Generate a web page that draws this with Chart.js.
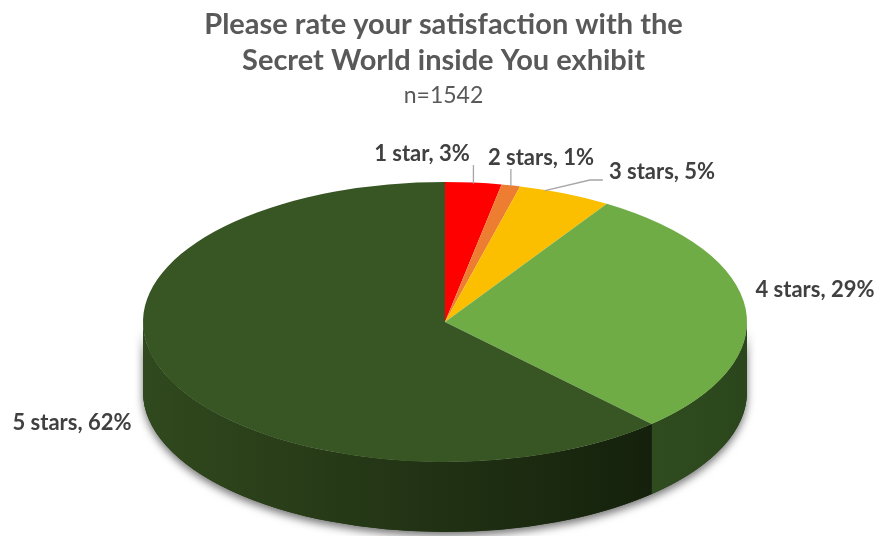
<!DOCTYPE html>
<html>
<head>
<meta charset="utf-8">
<title>Exhibit satisfaction</title>
<script src="https://cdn.jsdelivr.net/npm/chart.js@4.4.1/dist/chart.umd.min.js"></script>
<style>
  html, body { margin: 0; padding: 0; background: #ffffff; }
  #wrap { width: 880px; height: 536px; }
</style>
</head>
<body>
<div id="wrap"><canvas id="ratingChart" width="880" height="536"></canvas></div>
<script>
const ratingLabels = ["1 star", "2 stars", "3 stars", "4 stars", "5 stars"];
const ratingShares = [3, 1, 5, 29, 62];
const respondents = 1542;

const topColors = ["#ff0000", "#ed7d31", "#fbbf00", "#6fac46", "#375623"];
// side wall shading, left -> right
const sideColors = [
    ["#990000", "#660000"],
    ["#8e4b1d", "#5f3213"],
    ["#977300", "#654d00"],
    ["#2f4c1f", "#2b461c"],
    ["#31491e", "#15210c"]
];

// tilted pie: top ellipse and extrusion depth
const tilt = { cx: 445, cy: 322, rx: 302, ry: 140, depth: 70 };

// where each label text sits (centre), and how its leader line runs
const labelSpots = [
    { x: 422, y: 154, leader: "up" },
    { x: 541, y: 158, leader: "up" },
    { x: 662, y: 172, leader: "left" },
    { x: 815, y: 290, leader: null },
    { x: 72, y: 423, leader: null }
];

function frontRange(a0, a1) {
    // part of [a0, a1] that faces the viewer (canvas angle 0..PI)
    const s = Math.max(a0, 0);
    const e = Math.min(a1, Math.PI);
    return e > s ? [s, e] : null;
}

const tiltedPie = {
    id: "tiltedPie",
    beforeDatasetsDraw(chart) {
        const ctx = chart.ctx;
        const meta = chart.getDatasetMeta(0);
        const { cx, cy, rx, ry, depth } = tilt;

        // soft shadow under the whole wall
        ctx.save();
        ctx.shadowColor = "rgba(0,0,0,0.55)";
        ctx.shadowBlur = 9;
        ctx.shadowOffsetY = 4;
        ctx.fillStyle = "#1f3015";
        ctx.beginPath();
        ctx.ellipse(cx, cy, rx, ry, 0, 0, Math.PI);
        ctx.ellipse(cx, cy + depth, rx, ry, 0, Math.PI, 0, true);
        ctx.closePath();
        ctx.fill();
        ctx.restore();

        meta.data.forEach((arc, i) => {
            const { startAngle, endAngle } = arc.getProps(["startAngle", "endAngle"], true);
            const range = frontRange(startAngle, endAngle);
            if (!range) return;
            const [s, e] = range;
            const xa = cx + rx * Math.cos(e);
            const xb = cx + rx * Math.cos(s);
            const g = ctx.createLinearGradient(Math.min(xa, xb), 0, Math.max(xa, xb), 0);
            g.addColorStop(0, sideColors[i][0]);
            g.addColorStop(1, sideColors[i][1]);
            ctx.save();
            ctx.fillStyle = g;
            ctx.beginPath();
            ctx.ellipse(cx, cy, rx, ry, 0, s, e);
            ctx.ellipse(cx, cy + depth, rx, ry, 0, e, s, true);
            ctx.closePath();
            ctx.fill();
            ctx.restore();
        });

        // squash the round pie onto the top ellipse
        const first = meta.data[0].getProps(["x", "y", "outerRadius"], true);
        ctx.save();
        ctx.translate(cx, cy);
        ctx.scale(rx / first.outerRadius, ry / first.outerRadius);
        ctx.translate(-first.x, -first.y);
    },
    afterDatasetsDraw(chart) {
        const ctx = chart.ctx;
        ctx.restore();

        const meta = chart.getDatasetMeta(0);
        const { cx, cy, rx, ry } = tilt;
        ctx.save();
        ctx.font = "bold 22px Lato";
        ctx.fillStyle = "#404040";
        ctx.textAlign = "center";
        ctx.textBaseline = "middle";
        ctx.strokeStyle = "#a6a6a6";
        ctx.lineWidth = 1.3;

        meta.data.forEach((arc, i) => {
            const { startAngle, endAngle } = arc.getProps(["startAngle", "endAngle"], true);
            const mid = (startAngle + endAngle) / 2;
            const ex = cx + rx * Math.cos(mid);
            const ey = cy + ry * Math.sin(mid);
            const spot = labelSpots[i];
            const text = ratingLabels[i] + ", " + ratingShares[i] + "%";
            const w = ctx.measureText(text).width;

            if (spot.leader === "up") {
                ctx.beginPath();
                ctx.moveTo(ex, spot.y + 11);
                ctx.lineTo(ex, ey + 1);
                ctx.stroke();
            } else if (spot.leader === "left") {
                const lx = spot.x - w / 2 - 6;
                ctx.beginPath();
                ctx.moveTo(lx, spot.y + 8);
                ctx.lineTo(lx - 13, spot.y + 8);
                ctx.lineTo(ex - 20, ey - 3);
                ctx.stroke();
            }
            ctx.fillText(text, spot.x, spot.y);
        });
        ctx.restore();
    }
};

new Chart(document.getElementById("ratingChart"), {
    type: "pie",
    data: {
        labels: ratingLabels,
        datasets: [{
            data: ratingShares,
            backgroundColor: topColors,
            borderWidth: 0,
            clip: false
        }]
    },
    options: {
        responsive: false,
        animation: false,
        events: [],
        layout: { padding: { left: 7, top: 0, right: 0, bottom: 0 } },
        plugins: {
            legend: { display: false },
            tooltip: { enabled: false },
            title: {
                display: true,
                text: ["Please rate your satisfaction with the", "Secret World inside You exhibit"],
                color: "#595959",
                font: { family: "Lato", size: 29, weight: "bold", lineHeight: 1.24 },
                padding: { top: 7, bottom: 5 }
            },
            subtitle: {
                display: true,
                text: "n=" + respondents,
                color: "#595959",
                font: { family: "Lato", size: 23, weight: "normal", lineHeight: 1.0 },
                padding: { top: 0, bottom: 10 }
            }
        }
    },
    plugins: [tiltedPie]
});
</script>
</body>
</html>
